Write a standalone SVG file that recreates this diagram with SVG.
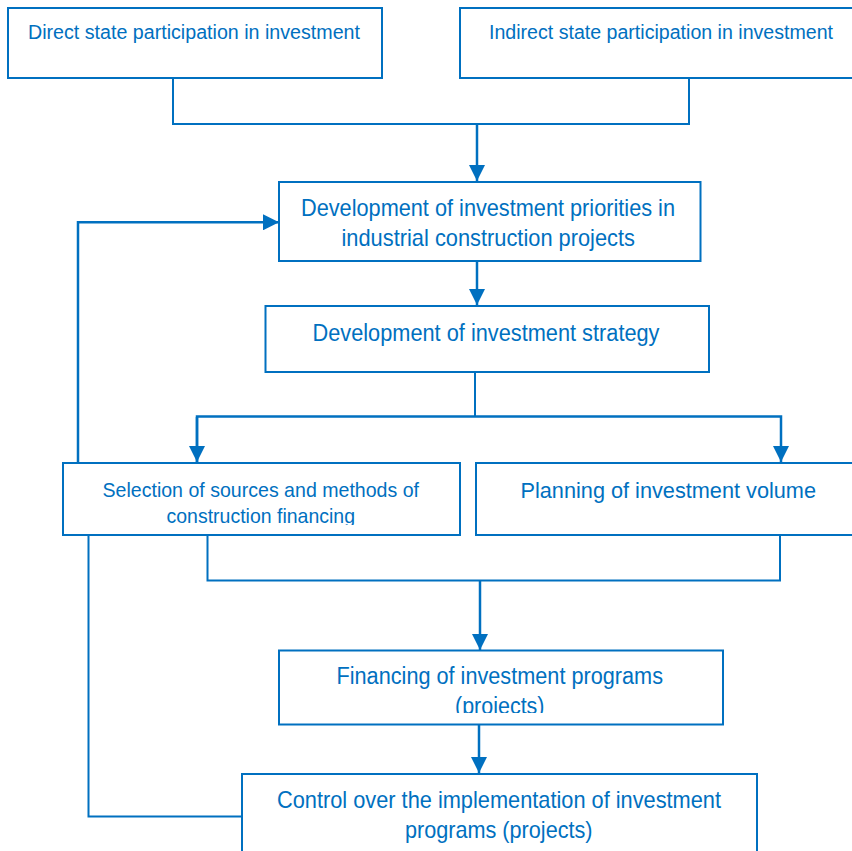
<svg xmlns="http://www.w3.org/2000/svg" width="852" height="851" viewBox="0 0 852 851">
<style>
.box{fill:#fff;stroke:#0070C0;stroke-width:2}
.t{font-family:"Liberation Sans",Arial,sans-serif;fill:#0070C0;text-anchor:start}
.ln{fill:none;stroke:#0070C0;stroke-width:2}
.ar{fill:none;stroke:#0070C0;stroke-width:2.5}
</style>
<defs>
<marker id="ah" markerUnits="userSpaceOnUse" markerWidth="16" markerHeight="16" viewBox="0 0 16 16" refX="16" refY="8" orient="auto">
<path d="M0,0 L16,8 L0,16 Z" fill="#0070C0"/>
</marker>
<clipPath id="c5"><rect x="60" y="460" width="400" height="65"/></clipPath>
<clipPath id="c7"><rect x="270" y="640" width="460" height="73"/></clipPath>
</defs>
<g id="connectors">
<polyline class="ln" points="173,78 173,124 689,124 689,78"/>
<line class="ar" x1="477" y1="124" x2="477" y2="181" marker-end="url(#ah)"/>
<line class="ar" x1="477" y1="261" x2="477" y2="305" marker-end="url(#ah)"/>
<polyline class="ln" points="475,372 475,416.5"/>
<polyline class="ar" points="197,462 197,416.5 781,416.5 781,462" marker-end="url(#ah)"/>
<line class="ar" x1="197" y1="417" x2="197" y2="462" marker-end="url(#ah)"/>
<polyline class="ln" points="207.5,536 207.5,580.5 780,580.5 780,536"/>
<line class="ar" x1="480" y1="580" x2="480" y2="650" marker-end="url(#ah)"/>
<line class="ar" x1="479" y1="725" x2="479" y2="773" marker-end="url(#ah)"/>
<polyline class="ln" points="242,816.5 88.5,816.5 88.5,536"/>
<polyline class="ar" points="78,462 78,222.3 279,222.3" marker-end="url(#ah)"/>
</g>
<g id="n1">
<rect class="box" x="8" y="8" width="374" height="70"/>
<text class="t" x="28" y="39" font-size="20" textLength="332" lengthAdjust="spacingAndGlyphs">Direct state participation in investment</text>
</g>
<g id="n2">
<rect class="box" x="460" y="8" width="400" height="70"/>
<text class="t" x="489" y="39" font-size="20" textLength="344" lengthAdjust="spacingAndGlyphs">Indirect state participation in investment</text>
</g>
<g id="n3">
<rect class="box" x="279" y="182" width="421.5" height="79"/>
<text class="t" x="301" y="216" font-size="24" textLength="374" lengthAdjust="spacingAndGlyphs">Development of investment priorities in</text>
<text class="t" x="341.5" y="246" font-size="24" textLength="293.5" lengthAdjust="spacingAndGlyphs">industrial construction projects</text>
</g>
<g id="n4">
<rect class="box" x="265.5" y="306" width="443.5" height="66"/>
<text class="t" x="312.5" y="341" font-size="23" textLength="347" lengthAdjust="spacingAndGlyphs">Development of investment strategy</text>
</g>
<g id="n5">
<rect class="box" x="63" y="463" width="397" height="72"/>
<text class="t" x="102.5" y="497" font-size="21" textLength="316.5" lengthAdjust="spacingAndGlyphs">Selection of sources and methods of</text>
<text class="t" x="166.5" y="523" font-size="21" textLength="188.5" lengthAdjust="spacingAndGlyphs" clip-path="url(#c5)">construction financing</text>
</g>
<g id="n6">
<rect class="box" x="476" y="463" width="390" height="72"/>
<text class="t" x="520.5" y="498" font-size="22" textLength="295.5" lengthAdjust="spacingAndGlyphs">Planning of investment volume</text>
</g>
<g id="n7">
<rect class="box" x="279" y="650.5" width="444" height="74"/>
<text class="t" x="336.5" y="684" font-size="23" textLength="326.5" lengthAdjust="spacingAndGlyphs">Financing of investment programs</text>
<text class="t" x="455" y="714" font-size="23" textLength="89.5" lengthAdjust="spacingAndGlyphs" clip-path="url(#c7)">(projects)</text>
</g>
<g id="n8">
<rect class="box" x="242" y="774" width="515" height="90"/>
<text class="t" x="277" y="808" font-size="24" textLength="444" lengthAdjust="spacingAndGlyphs">Control over the implementation of investment</text>
<text class="t" x="405" y="838" font-size="24" textLength="187.5" lengthAdjust="spacingAndGlyphs">programs (projects)</text>
</g>
</svg>
